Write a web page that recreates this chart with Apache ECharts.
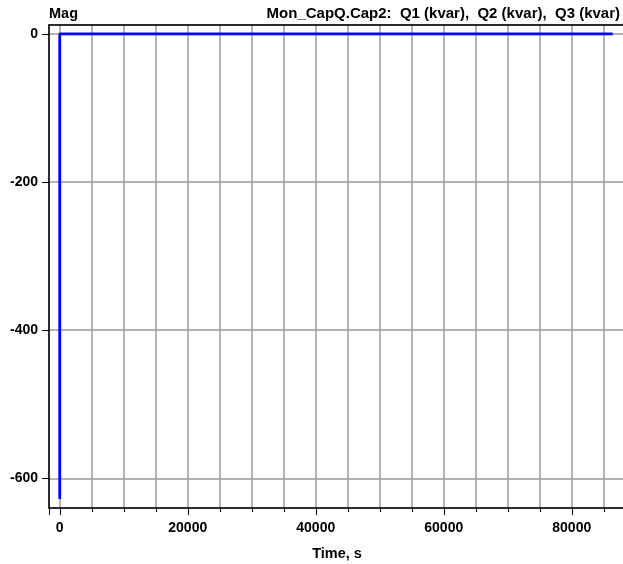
<!DOCTYPE html>
<html>
<head>
<meta charset="utf-8">
<script src="https://cdn.jsdelivr.net/npm/echarts@6/dist/echarts.min.js"></script>
<style>
html,body{margin:0;padding:0;background:#fff;}
#main{width:623px;height:564px;}
</style>
</head>
<body>
<div id="main"></div>
<script>
// Data
const timeValues = [0, 0, 86400];      // seconds
const qValues = [-628, 0, 0];          // kvar
const xTickLabels = [0, 20000, 40000, 60000, 80000];
const yTickLabels = [-600, -400, -200, 0];
const chartTitle = 'Mon_CapQ.Cap2:  Q1 (kvar),  Q2 (kvar),  Q3 (kvar)';
const yName = 'Mag';
const xName = 'Time, s';

const FONT = '"Liberation Sans", Arial, sans-serif';
const grid = '#9a9a9a';

const chart = echarts.init(document.getElementById('main'), null, {renderer: 'canvas'});
chart.setOption({
  animation: false,
  backgroundColor: '#fff',
  title: [
    {text: chartTitle, right: -2, top: 1, padding: 5,
     textStyle: {fontFamily: FONT, fontWeight: 'bold', fontSize: 15, color: '#000'}},
    {text: yName, left: 44, top: 1, padding: 5,
     textStyle: {fontFamily: FONT, fontWeight: 'bold', fontSize: 14.5, color: '#000'}}
  ],
  grid: {left: 49, top: 25, right: -2, bottom: 56, containLabel: false, outerBoundsMode: 'none'},
  xAxis: [{
    type: 'value', min: -1680, max: 88320, splitNumber: 4,
    name: xName, nameLocation: 'middle', nameGap: 38,
    nameTextStyle: {fontFamily: FONT, fontWeight: 'bold', fontSize: 14.5, color: '#000'},
    axisLine: {show: true, onZero: false, lineStyle: {color: '#000', width: 1.5}},
    axisTick: {show: true, length: 7, lineStyle: {color: '#000', width: 1}},
    minorTick: {show: true, splitNumber: 4, length: 4, lineStyle: {color: '#000', width: 1}},
    splitLine: {show: true, lineStyle: {color: grid, width: 1.5}},
    minorSplitLine: {show: true, lineStyle: {color: grid, width: 1.5}},
    axisLabel: {showMinLabel: false, showMaxLabel: false, margin: 13,
      fontFamily: FONT, fontWeight: 'bold', fontSize: 14, color: '#000',
      formatter: v => xTickLabels.includes(v) ? String(v) : ''}
  }, {
    type: 'value', position: 'top', min: -1680, max: 88320,
    axisLine: {show: true, onZero: false, lineStyle: {color: '#000', width: 1.5}},
    axisTick: {show: false}, axisLabel: {show: false}, splitLine: {show: false}
  }],
  yAxis: {
    type: 'value', min: -640, max: 12, splitNumber: 3,
    axisLine: {show: true, onZero: false, lineStyle: {color: '#000', width: 1.5}},
    axisTick: {show: true, length: 7, lineStyle: {color: '#000', width: 1}},
    splitLine: {show: true, lineStyle: {color: grid, width: 1.5}},
    axisLabel: {showMinLabel: false, showMaxLabel: false, margin: 11,
      fontFamily: FONT, fontWeight: 'bold', fontSize: 14, color: '#000',
      formatter: v => yTickLabels.includes(v) ? String(v) : ''}
  },
  series: [{
    type: 'line', xAxisIndex: 0, showSymbol: false,
    data: timeValues.map((t, i) => [t, qValues[i]]),
    lineStyle: {color: '#0000ff', width: 2.8},
    itemStyle: {color: '#0000ff'}
  }]
});
</script>
</body>
</html>
